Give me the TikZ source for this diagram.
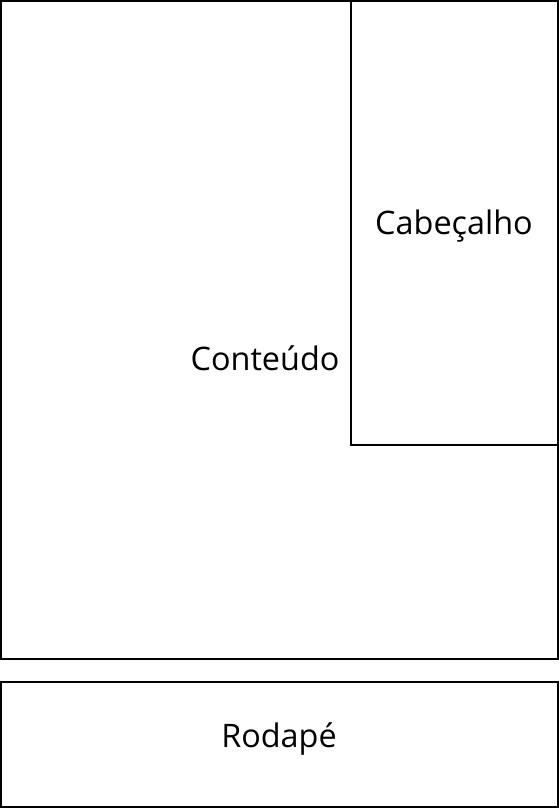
\documentclass[tikz,border=0pt]{standalone}
\usepackage{fontspec}
\setmainfont{Open Sans}
\usepackage{tikz}
\usetikzlibrary{positioning}

\begin{document}
\begin{tikzpicture}[
  x=0.75pt, y=-0.75pt,
  area/.style  = {draw, line width=1pt},
  label/.style = {font=\fontsize{24.3}{28}\selectfont, inner sep=0pt}]

\useasboundingbox (0,0) rectangle (559,809);

% the page areas
\draw[area] (1,1) rectangle (558,659);
\draw[area] (351,1) rectangle (558,445);
\draw[area] (1,682) rectangle (558,807);

% the labels
\node[label] (conteudo)  at (265,358) {Conteúdo};
\node[label] (cabecalho) at (454,226) {Cabeçalho};
\node[label] (rodape)    at (279,739) {Rodapé};

\end{tikzpicture}
\end{document}
